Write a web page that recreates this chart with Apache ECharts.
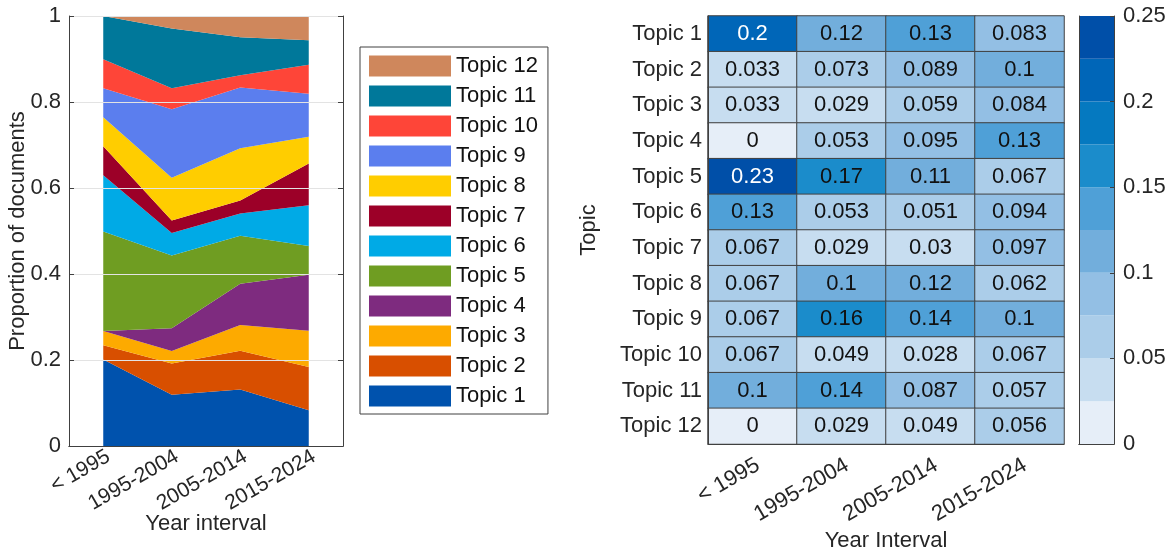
<!DOCTYPE html>
<html>
<head>
<meta charset="utf-8">
<script src="https://cdn.jsdelivr.net/npm/echarts@6/dist/echarts.min.js"></script>
<style>
  html, body { margin: 0; padding: 0; background: #fff; }
  #chart { width: 1170px; height: 555px; }
</style>
</head>
<body>
<div id="chart"></div>
<script>
// year intervals (x) and topics
const intervals = ["< 1995", "1995-2004", "2005-2014", "2015-2024"];
const topics = ["Topic 1", "Topic 2", "Topic 3", "Topic 4", "Topic 5", "Topic 6",
  "Topic 7", "Topic 8", "Topic 9", "Topic 10", "Topic 11", "Topic 12"];

// proportion of documents per topic, one value per interval
const topic1 = [0.2, 0.12, 0.13, 0.083];
const topic2 = [0.033, 0.073, 0.089, 0.1];
const topic3 = [0.033, 0.029, 0.059, 0.084];
const topic4 = [0, 0.053, 0.095, 0.13];
const topic5 = [0.23, 0.17, 0.11, 0.067];
const topic6 = [0.13, 0.053, 0.051, 0.094];
const topic7 = [0.067, 0.029, 0.03, 0.097];
const topic8 = [0.067, 0.1, 0.12, 0.062];
const topic9 = [0.067, 0.16, 0.14, 0.1];
const topic10 = [0.067, 0.049, 0.028, 0.067];
const topic11 = [0.1, 0.14, 0.087, 0.057];
const topic12 = [0, 0.029, 0.049, 0.056];
const topicValues = [topic1, topic2, topic3, topic4, topic5, topic6,
  topic7, topic8, topic9, topic10, topic11, topic12];

const topicColors = ["#0052ad", "#d84f00", "#fdaa00", "#7e2b7f", "#6f9d22", "#00aae6",
  "#9c0028", "#ffcd00", "#5b7eee", "#fe4538", "#00789a", "#cf875c"];

// colour bar: bin edges and colours
const binEdges = [0, 0.025, 0.05, 0.075, 0.1, 0.125, 0.15, 0.175, 0.2, 0.225, 0.25];
const binColors = ["#e6eef8", "#c7ddf0", "#abcde9", "#93bfe4", "#72aedc",
  "#4fa0d7", "#1b8ccb", "#0579c0", "#0066b8", "#004fa8"];

const font = "Liberation Sans, Arial, sans-serif";
const ink = "#262626";
const edge = "#404040";
const fs = 22;

const chart = echarts.init(document.getElementById("chart"));

// the printed shares are rounded, so each column is rescaled to sum to 1 for the stack
const colSums = intervals.map((iv, j) => topicValues.reduce((s, arr) => s + arr[j], 0));

const areaSeries = topics.map((name, i) => ({
  name: name,
  type: "line",
  stack: "all",
  xAxisIndex: 0,
  yAxisIndex: 0,
  data: topicValues[i].map((v, j) => v / colSums[j]),
  color: topicColors[i],
  showSymbol: false,
  lineStyle: { width: 0 },
  areaStyle: { color: topicColors[i], opacity: 1 },
  emphasis: { disabled: true },
  animation: false
}));

const heatData = [];
topics.forEach((t, i) => {
  intervals.forEach((iv, j) => {
    const v = topicValues[i][j];
    heatData.push({
      value: [j, i, v],
      label: { color: v >= 0.2 ? "#fff" : "#111" }
    });
  });
});

const colorbarSeries = binColors.map((c, k) => ({
  type: "bar",
  stack: "cb",
  xAxisIndex: 3,
  yAxisIndex: 3,
  barWidth: "100%",
  data: [binEdges[k + 1] - binEdges[k]],
  itemStyle: { color: c },
  silent: true,
  animation: false
}));

const pieces = binColors.map((c, k) => ({
  gte: binEdges[k],
  lt: binEdges[k + 1],
  color: c
}));
pieces[pieces.length - 1].lte = binEdges[binEdges.length - 1];
delete pieces[pieces.length - 1].lt;

chart.setOption({
  backgroundColor: "#fff",
  textStyle: { fontFamily: font, color: ink },
  grid: [
    { left: 69, top: 16, width: 274, height: 430, outerBoundsMode: "none" },
    { left: 708, top: 16, width: 356, height: 428, outerBoundsMode: "none" },
    { left: 1079, top: 16, width: 35, height: 428, outerBoundsMode: "none" }
  ],
  legend: {
    data: topics.slice().reverse(),
    orient: "vertical",
    left: 360,
    top: 47,
    icon: "rect",
    itemWidth: 82,
    itemHeight: 21,
    itemGap: 8,
    padding: [8, 10, 7, 9],
    borderColor: edge,
    borderWidth: 1,
    selectedMode: false,
    textStyle: { fontSize: fs, color: "#111", fontFamily: font }
  },
  visualMap: {
    type: "piecewise",
    show: false,
    seriesIndex: topics.length,
    dimension: 2,
    pieces: pieces
  },
  xAxis: [
    {
      gridIndex: 0, type: "category", data: intervals, boundaryGap: true, z: 10,
      axisLine: { lineStyle: { color: edge } },
      axisTick: { inside: true, alignWithLabel: true, length: 5, lineStyle: { color: edge } },
      axisLabel: { rotate: 30, fontSize: 21, color: ink, margin: 0, verticalAlign: "top" },
      name: "Year interval", nameLocation: "middle", nameGap: 67, nameMoveOverlap: false,
      nameTextStyle: { fontSize: fs, color: ink }
    },
    {
      gridIndex: 0, type: "category", data: intervals, position: "top", z: 10,
      axisLine: { lineStyle: { color: edge } },
      axisTick: { inside: true, alignWithLabel: true, length: 5, lineStyle: { color: edge } },
      axisLabel: { show: false }
    },
    {
      gridIndex: 1, type: "category", data: intervals, z: 10,
      axisLine: { lineStyle: { color: edge } },
      axisTick: { show: false },
      axisLabel: { rotate: 30, fontSize: fs, color: ink, margin: 10, verticalAlign: "top" },
      splitArea: { show: false },
      name: "Year Interval", nameLocation: "middle", nameGap: 86, nameMoveOverlap: false,
      nameTextStyle: { fontSize: fs, color: ink }
    },
    {
      gridIndex: 2, type: "category", data: ["cb"], z: 10,
      axisLine: { lineStyle: { color: edge } },
      axisTick: { show: false }, axisLabel: { show: false }
    },
    {
      gridIndex: 2, type: "category", data: ["cb"], position: "top", z: 10,
      axisLine: { lineStyle: { color: edge } },
      axisTick: { show: false }, axisLabel: { show: false }
    }
  ],
  yAxis: [
    {
      gridIndex: 0, type: "value", min: 0, max: 1, interval: 0.2, z: 10,
      axisLine: { show: true, lineStyle: { color: edge } },
      axisTick: { show: true, inside: true, length: 5, lineStyle: { color: edge } },
      axisLabel: { fontSize: fs, color: ink, margin: 8 },
      splitLine: { lineStyle: { color: "#e3e3e3" } },
      name: "Proportion of documents", nameLocation: "middle", nameGap: 40,
      nameMoveOverlap: false, nameRotate: 90, nameTextStyle: { fontSize: fs, color: ink }
    },
    {
      gridIndex: 0, type: "value", min: 0, max: 1, interval: 0.2, position: "right", z: 10,
      axisLine: { show: true, lineStyle: { color: edge } },
      axisTick: { show: true, inside: true, length: 5, lineStyle: { color: edge } },
      axisLabel: { show: false }, splitLine: { show: false }
    },
    {
      gridIndex: 1, type: "category", data: topics, inverse: true, z: 10,
      axisLine: { lineStyle: { color: edge } },
      axisTick: { show: false },
      axisLabel: { fontSize: fs, color: ink, margin: 6 },
      name: "Topic", nameLocation: "middle", nameGap: 108, nameRotate: 90,
      nameMoveOverlap: false, nameTextStyle: { fontSize: fs, color: ink }
    },
    {
      gridIndex: 2, type: "value", min: 0, max: 0.25, interval: 0.05, position: "right", z: 10,
      axisLine: { show: true, lineStyle: { color: edge } },
      axisTick: { show: true, inside: true, length: 4, lineStyle: { color: edge } },
      axisLabel: { fontSize: fs, color: ink, margin: 9 },
      splitLine: { show: false }
    },
    {
      gridIndex: 2, type: "value", min: 0, max: 0.25, interval: 0.05, position: "left", z: 10,
      axisLine: { show: true, lineStyle: { color: edge } },
      axisTick: { show: false }, axisLabel: { show: false }, splitLine: { show: false }
    }
  ],
  series: [
    ...areaSeries,
    {
      type: "heatmap",
      xAxisIndex: 2,
      yAxisIndex: 2,
      data: heatData,
      label: { show: true, fontSize: fs, fontFamily: font },
      itemStyle: { borderColor: edge, borderWidth: 1 },
      emphasis: { disabled: true },
      animation: false
    },
    ...colorbarSeries
  ]
});
</script>
</body>
</html>
